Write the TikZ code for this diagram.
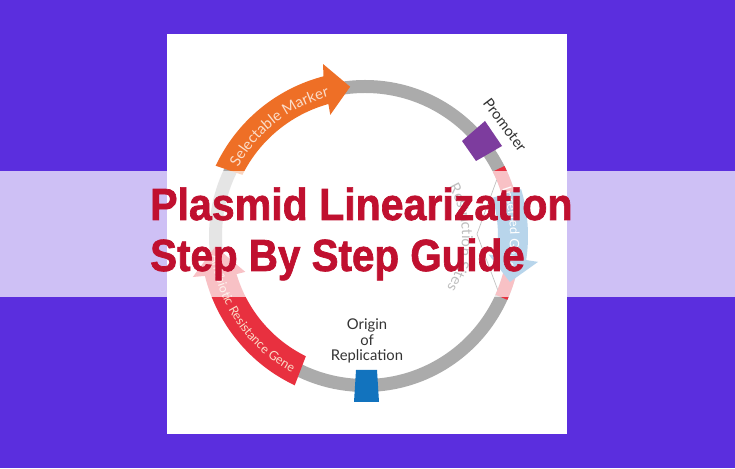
\documentclass[tikz,border=0pt]{standalone}
\usepackage{fontspec}
\setmainfont{Lato}
\newfontfamily\titlefont[BoldFeatures={FakeBold=1.6}]{Liberation Sans}
\usetikzlibrary{decorations.text}
\definecolor{bgpurple}{HTML}{5B2EDE}
\definecolor{ringgray}{HTML}{ABABAB}
\definecolor{markerorange}{HTML}{EE6F26}
\definecolor{resistred}{HTML}{E8303F}
\definecolor{promoterpurple}{HTML}{7D3C9E}
\definecolor{originblue}{HTML}{1273BE}
\definecolor{titlered}{HTML}{C0102F}
\definecolor{peach}{HTML}{FBDCC8}
\tikzset{
  plainlabel/.style={text=black!80,font=\fontsize{14.8}{15.5}\selectfont},
  titleline/.style={anchor=base west,inner sep=0pt,text=titlered,font=\titlefont\bfseries\fontsize{45}{45}\selectfont}
}
\begin{document}
\begin{tikzpicture}[x=1pt,y=1pt]
\useasboundingbox (0,0) rectangle (735,468);
\fill[bgpurple] (0,0) rectangle (735,468);
\fill[white] (167,34) rectangle (567,434);
\begin{scope}[shift={(365,232)}]
\draw[ringgray,line width=13pt] (0,0) circle [radius=149.5];
\draw[resistred,line width=13pt] (26.7:149.5) arc [start angle=26.7,end angle=-24.2,radius=149.5];
\draw[black!80,line width=0.7pt] (23:143) -- (1:112) -- (-22:143);
\fill[originblue] (16.7:133) arc [start angle=16.7,end angle=-8.5,radius=133] -- (-8.5:125) -- (-17.6:152) -- (-8.5:175) -- (-8.5:163) arc [start angle=-8.5,end angle=16.7,radius=163] -- cycle;
\fill[markerorange] (153.5:137) arc [start angle=153.5,end angle=105.5,radius=137] -- (106:126) -- (95.7:150) -- (103.7:177) -- (104.6:165) arc [start angle=104.6,end angle=154.8,radius=165] -- cycle;
\fill[resistred] (243.8:134) arc [start angle=243.8,end angle=196.5,radius=134] -- (196.7:125) -- (184:150) -- (193.4:177) -- (194:165) arc [start angle=194,end angle=244.8,radius=165] -- cycle;
\path[decorate,decoration={text along path,text align=center,text={|\color{peach}\fontsize{15}{15}\selectfont|Selectable Marker}}] (156:144) arc [start angle=156,end angle=100,radius=144];
\path[decorate,decoration={text along path,text align=center,text={|\color{peach}\fontsize{12.5}{13}\selectfont|Antibiotic Resistance Gene}}] (183:155) arc [start angle=183,end angle=246,radius=155];
\path[decorate,decoration={text along path,text align=center,text={|\color{white}\fontsize{13}{13}\selectfont|Inserted Gene}}] (24:145) arc [start angle=24,end angle=-18,radius=145];
\path[decorate,decoration={text along path,text align=center,text={|\color{black!85}\fontsize{15}{15}\selectfont|Restriction Sites}}] (34:97) arc [start angle=34,end angle=-36,radius=97];
\end{scope}
\fill[promoterpurple] (485,347) -- (502,322) -- (476,307) -- (462,327) -- cycle;
\fill[originblue] (356,98) -- (377,98) -- (379,66) -- (354,66) -- cycle;
\node[plainlabel,rotate=-53] (promoter) at (505,343) {Promoter};
\node[plainlabel,align=center] (origin) at (367,127) {Origin\\of\\Replication};
\fill[white,fill opacity=0.7] (0,171) rectangle (735,297);
\node[titleline,xscale=0.913] (titleone) at (150,248) {Plasmid Linearization};
\node[titleline,xscale=0.897] (titletwo) at (150,197) {Step By Step Guide};
\end{tikzpicture}
\end{document}
